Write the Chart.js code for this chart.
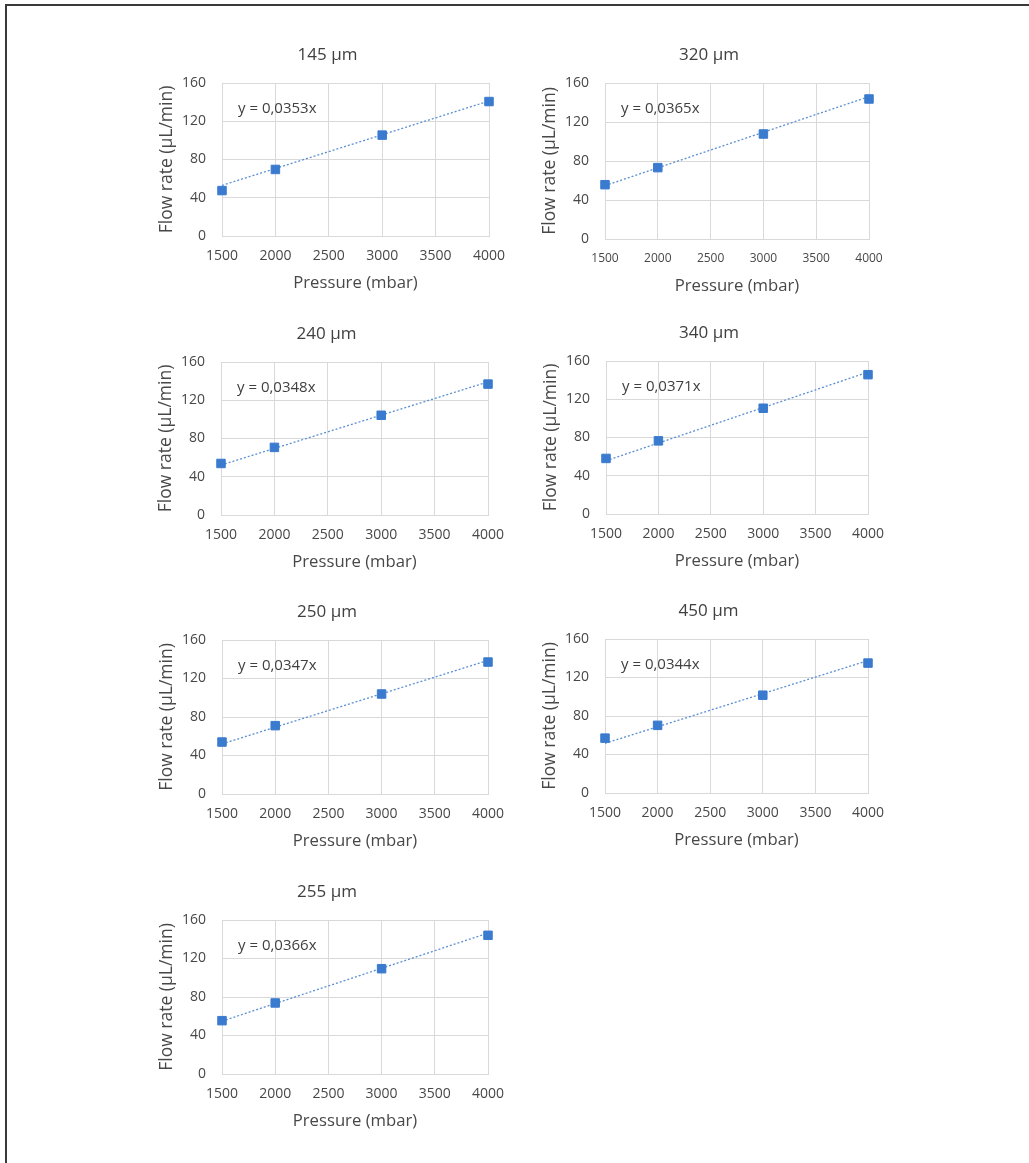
<!DOCTYPE html>
<html lang="en">
<head>
  <meta charset="UTF-8">
  <title>Flow rate vs pressure</title>
  <script src="https://cdn.jsdelivr.net/npm/chart.js"></script>
  <style>
    html, body {
      margin: 0;
      padding: 0;
      background: white;
      width: 1029px;
      height: 1163px;
      overflow: hidden;
      font-family: 'Open Sans', sans-serif;
    }
    .frame {
      position: absolute;
      left: 5px; top: 4px;
      right: 0; bottom: 0;
      border-top: 2px solid #3a3a3a;
      border-left: 2px solid #3a3a3a;
    }
    canvas { position: absolute; }
  </style>
</head>
<body>
  <div class="frame"></div>

  <script>
    // pressure (mbar)
    const pressure = [1500, 2000, 3000, 4000];

    // flow rate (µL/min) per channel size
    const flow145 = [47.5, 69.6, 105.5, 140.6];
    const flow320 = [55.7, 73.2, 107.7, 143.6];
    const flow240 = [53.9, 70.7, 104.3, 136.9];
    const flow340 = [58.1, 76.5, 110.6, 145.7];
    const flow250 = [54.0, 71.0, 103.9, 137.1];
    const flow450 = [57.0, 70.3, 101.6, 135.0];
    const flow255 = [55.4, 73.8, 109.4, 144.1];

    const titles = ['145 µm', '320 µm', '240 µm', '340 µm', '250 µm', '450 µm', '255 µm'];
    const slopes = [0.0353, 0.0365, 0.0348, 0.0371, 0.0347, 0.0344, 0.0366];
    const series = [flow145, flow320, flow240, flow340, flow250, flow450, flow255];

    const yTicks = [0, 40, 80, 120, 160];
    const xTicks = [1500, 2000, 2500, 3000, 3500, 4000];

    // plot area boxes [left, top, right, bottom] in page pixels
    const boxes = [
      [221.5, 83, 488, 236],
      [605, 83, 869, 239],
      [221, 361.5, 488, 514],
      [606, 361, 868, 514],
      [222, 640, 488, 794],
      [605, 639, 868, 793],
      [222, 920, 488, 1074]
    ];
    const xTickSize = [14, 12, 14, 14, 14, 14, 14];

    const AXW = 71, TOPH = 45, BOTH = 65, PADR = 24;
    const blue = '#3a7bcf';
    const textCol = '#484848';
    const gridCol = '#d9d9d9';

    // panel title (centred over the whole chart like Excel) and trendline equation
    const panelText = {
      id: 'panelText',
      afterDatasetsDraw(chart, args, opts) {
        const ctx = chart.ctx;
        const a = chart.chartArea;
        ctx.save();
        ctx.textBaseline = 'middle';
        ctx.fillStyle = '#404040';
        ctx.font = '17px "Open Sans"';
        ctx.textAlign = 'center';
        ctx.fillText(opts.title, (a.left + a.right) / 2 - 28, a.top - 28);
        ctx.font = '15px "Open Sans"';
        ctx.textAlign = 'left';
        ctx.fillText(opts.eq, a.left + 16, a.top + 26);
        ctx.restore();
      }
    };

    function fmtSlope(k) {
      return 'y = ' + k.toFixed(4).replace('.', ',') + 'x';
    }

    series.forEach((vals, i) => {
      const [L, T, R, B] = boxes[i];
      const cv = document.createElement('canvas');
      const w = Math.round(R - L + AXW + PADR);
      const h = Math.round(B - T + TOPH + BOTH);
      cv.width = w; cv.height = h;
      cv.style.width = w + 'px'; cv.style.height = h + 'px';
      cv.style.left = (L - AXW) + 'px';
      cv.style.top = (T - TOPH) + 'px';
      document.body.appendChild(cv);

      const k = slopes[i];
      new Chart(cv, {
        type: 'scatter',
        data: {
          datasets: [
            {
              data: pressure.map((p, j) => ({ x: p, y: vals[j] })),
              backgroundColor: blue,
              borderColor: blue,
              pointStyle: 'rect',
              pointRadius: 6,
              pointHoverRadius: 6,
              clip: false,
              order: 1
            },
            {
              type: 'line',
              data: [{ x: pressure[0], y: k * pressure[0] }, { x: pressure[3], y: k * pressure[3] }],
              borderColor: '#5b8fd3',
              borderWidth: 1.3,
              borderDash: [2, 2],
              pointRadius: 0,
              fill: false,
              order: 2
            }
          ]
        },
        options: {
          responsive: false,
          animation: false,
          devicePixelRatio: 1,
          layout: { padding: { left: 0, top: TOPH, right: PADR, bottom: 0 } },
          plugins: {
            legend: { display: false },
            tooltip: { enabled: false },
            title: { display: false },
            panelText: { title: titles[i], eq: fmtSlope(k) }
          },
          scales: {
            x: {
              type: 'linear',
              min: 1500, max: 4000,
              afterBuildTicks: s => { s.ticks = xTicks.map(v => ({ value: v })); },
              afterFit: s => { s.height = BOTH; s.paddingLeft = 0; s.paddingRight = 0; },
              grid: { color: gridCol, drawTicks: false, lineWidth: 1 },
              border: { color: gridCol },
              ticks: {
                color: textCol,
                padding: 12,
                maxRotation: 0,
                callback: v => String(v),
                font: { family: 'Open Sans', size: xTickSize[i] }
              },
              title: {
                display: true,
                text: 'Pressure (mbar)',
                color: textCol,
                font: { family: 'Open Sans', size: 16.7, lineHeight: 1.2 },
                padding: { top: 0, bottom: 8 }
              }
            },
            y: {
              min: 0, max: 160,
              afterBuildTicks: s => { s.ticks = yTicks.map(v => ({ value: v })); },
              afterFit: s => { s.width = AXW; },
              grid: { color: gridCol, drawTicks: false, lineWidth: 1 },
              border: { display: false },
              ticks: {
                color: textCol,
                padding: 16,
                callback: v => String(v),
                font: { family: 'Open Sans', size: 14 }
              },
              title: {
                display: true,
                text: 'Flow rate (µL/min)',
                color: textCol,
                font: { family: 'Open Sans', size: 17.5, lineHeight: 1.2 },
                padding: { top: 6, bottom: 0 }
              }
            }
          }
        },
        plugins: [panelText]
      });
    });
  </script>
</body>
</html>
